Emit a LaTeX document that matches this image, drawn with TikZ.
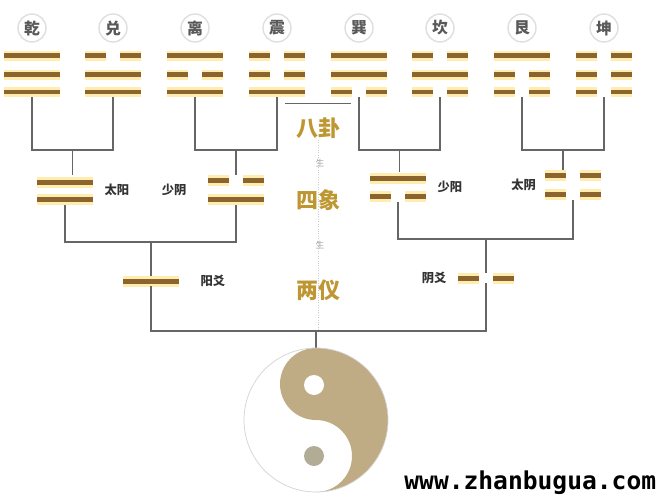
\documentclass[tikz,border=0pt]{standalone}
\usepackage{fontspec}
\setmainfont{Noto Sans CJK SC}
\newfontfamily\webfont{DejaVu Sans Mono}
\usetikzlibrary{positioning, calc}
\definecolor{yaobrown}{RGB}{140,100,45}
\definecolor{yaoglow}{RGB}{255,236,175}
\definecolor{taiji}{RGB}{192,172,132}
\definecolor{taijidot}{RGB}{178,172,150}
\definecolor{gold}{RGB}{190,150,50}
\tikzset{
  gua/.style={
    rectangle,
    minimum width=1.12cm,
    minimum height=0.92cm,
    inner sep=0pt
  },
  xiang/.style={
    rectangle,
    minimum width=1.12cm,
    minimum height=0.6cm,
    inner sep=0pt
  },
  yi/.style={
    rectangle,
    minimum width=1.12cm,
    minimum height=0.2cm,
    inner sep=0pt
  },
  gualabel/.style={
    circle,
    draw=gray!25, thick,
    fill=white,
    minimum size=0.56cm,
    inner sep=0pt,
    font=\fontsize{9}{9}\selectfont\bfseries,
    text=black!65
  },
  xianglabel/.style={
    font=\fontsize{7}{7}\selectfont\bfseries,
    text=black!80
  },
  stage/.style={
    font=\fontsize{12.5}{12.5}\selectfont\bfseries,
    text=gold
  },
  sheng/.style={
    font=\fontsize{5}{5}\selectfont,
    text=gray!70
  },
  link/.style={
    draw=gray!80!black,
    thick
  },
  glow/.style={
    draw=yaoglow,
    line width=0.22cm
  },
  bar/.style={
    draw=yaobrown,
    line width=0.1cm
  }
}
% one yao: left x, right x, y, 1 = yang / 0 = yin
\newcommand\yaobar[4]{%
  \ifnum#4=1
    \draw[glow] (#1,#3) -- (#2,#3);
    \draw[bar] (#1,#3) -- (#2,#3);
  \else
    \draw[glow] (#1,#3) -- ({#1+21},#3);
    \draw[glow] ({#2-21},#3) -- (#2,#3);
    \draw[bar] (#1,#3) -- ({#1+21},#3);
    \draw[bar] ({#2-21},#3) -- (#2,#3);
  \fi}

\begin{document}
\begin{tikzpicture}[x=0.02cm, y=-0.02cm]
\useasboundingbox (0,0) rectangle (662,500);

% centre axis
\draw[gray!40, densely dotted] (318,140) -- (318,330);

% ba gua
\foreach \name/\lab/\cx/\a/\b/\c in {
    qian/乾/32/1/1/1, dui/兑/113/0/1/1, li/离/195/1/0/1, zhen/震/277/0/0/1,
    xun/巽/359/1/1/0, kan/坎/440/0/1/0, gen/艮/522/1/0/0, kun/坤/604/0/0/0}{
  \node[gua] (\name) at (\cx,74) {};
  \yaobar{\cx-28}{\cx+28}{56}{\a}
  \yaobar{\cx-28}{\cx+28}{75}{\b}
  \yaobar{\cx-28}{\cx+28}{92}{\c}
  \node[gualabel] (l\name) at (\cx,28) {\lab};
}

% si xiang
\node[xiang] (taiyang) at (65,190) {};
\yaobar{37}{93}{182}{1}
\yaobar{37}{93}{199}{1}
\node[xianglabel, right=0.1cm of taiyang] (ltaiyang) {太阳};

\node[xiang] (shaoyin) at (236,190) {};
\yaobar{208}{264}{180}{0}
\yaobar{208}{264}{199}{1}
\node[xianglabel, left=0.3cm of shaoyin] (lshaoyin) {少阴};

\node[xiang] (shaoyang) at (398,187) {};
\yaobar{370}{426}{178}{1}
\yaobar{370}{426}{196}{0}
\node[xianglabel, right=0.1cm of shaoyang] (lshaoyang) {少阳};

\node[xiang] (taiyin) at (573,185) {};
\yaobar{545}{601}{175}{0}
\yaobar{545}{601}{194}{0}
\node[xianglabel, left=0.05cm of taiyin] (ltaiyin) {太阴};

% liang yi
\node[yi] (yang) at (151,281) {};
\yaobar{123}{179}{281}{1}
\node[xianglabel, right=0.3cm of yang] (lyang) {阳爻};

\node[yi] (yin) at (486,278) {};
\yaobar{458}{514}{278}{0}
\node[xianglabel, left=0.1cm of yin] (lyin) {阴爻};

% stages
\node[stage] (bagua) at (318,128) {八卦};
\node[sheng] (s1) at (320,163) {生};
\node[stage] (sixiang) at (318,200) {四象};
\node[sheng] (s2) at (320,245) {生};
\node[stage] (liangyi) at (318,290) {两仪};
\draw[link, thin] (zhen.south) ++(8,6) -- ($(xun.south)+(-8,6)$);

% edges

%% gua -> xiang
\foreach \p/\q/\r in {qian/dui/taiyang, li/zhen/shaoyin, xun/kan/shaoyang, gen/kun/taiyin}{
  \draw[link] (\p.south) -- (\p.south |- 0,150) -| (\q.south);
  \coordinate (m\r) at ($(\p.south |- 0,150)!0.5!(\q.south |- 0,150)$);
  \draw[link] (m\r) -- (m\r |- \r.north);
}

%% xiang -> yi
\draw[link] (taiyang.south) -- (taiyang.south |- 0,242) -| (shaoyin.south);
\draw[link] (yang.north |- 0,242) -- (yang.north);
\draw[link] (shaoyang.south) -- (shaoyang.south |- 0,239) -| (taiyin.south);
\draw[link] (yin.north |- 0,239) -- (yin.north);

%% yi -> taiji
\draw[link] (yang.south) -- (yang.south |- 0,331) -| (yin.south);
\node[circle, minimum size=2.88cm, inner sep=0pt] (taiji) at (316,420) {};
\draw[link] (taiji.north |- 0,331) -- (taiji.north);

% tai ji
\fill[taiji] (316,348) arc[start angle=-90, end angle=90, radius=72]
  arc[start angle=90, end angle=-90, radius=36]
  arc[start angle=90, end angle=270, radius=36];
\draw[gray!35] (taiji) circle[radius=72];
\fill[white] (314,385) circle[radius=10];
\fill[taijidot] (314,456) circle[radius=10];

% web address
\node[font=\webfont\fontsize{14}{14}\selectfont\bfseries, fill=white, anchor=east, inner sep=2pt] (web) at (660,483) {www.zhanbugua.com};
\end{tikzpicture}
\end{document}
